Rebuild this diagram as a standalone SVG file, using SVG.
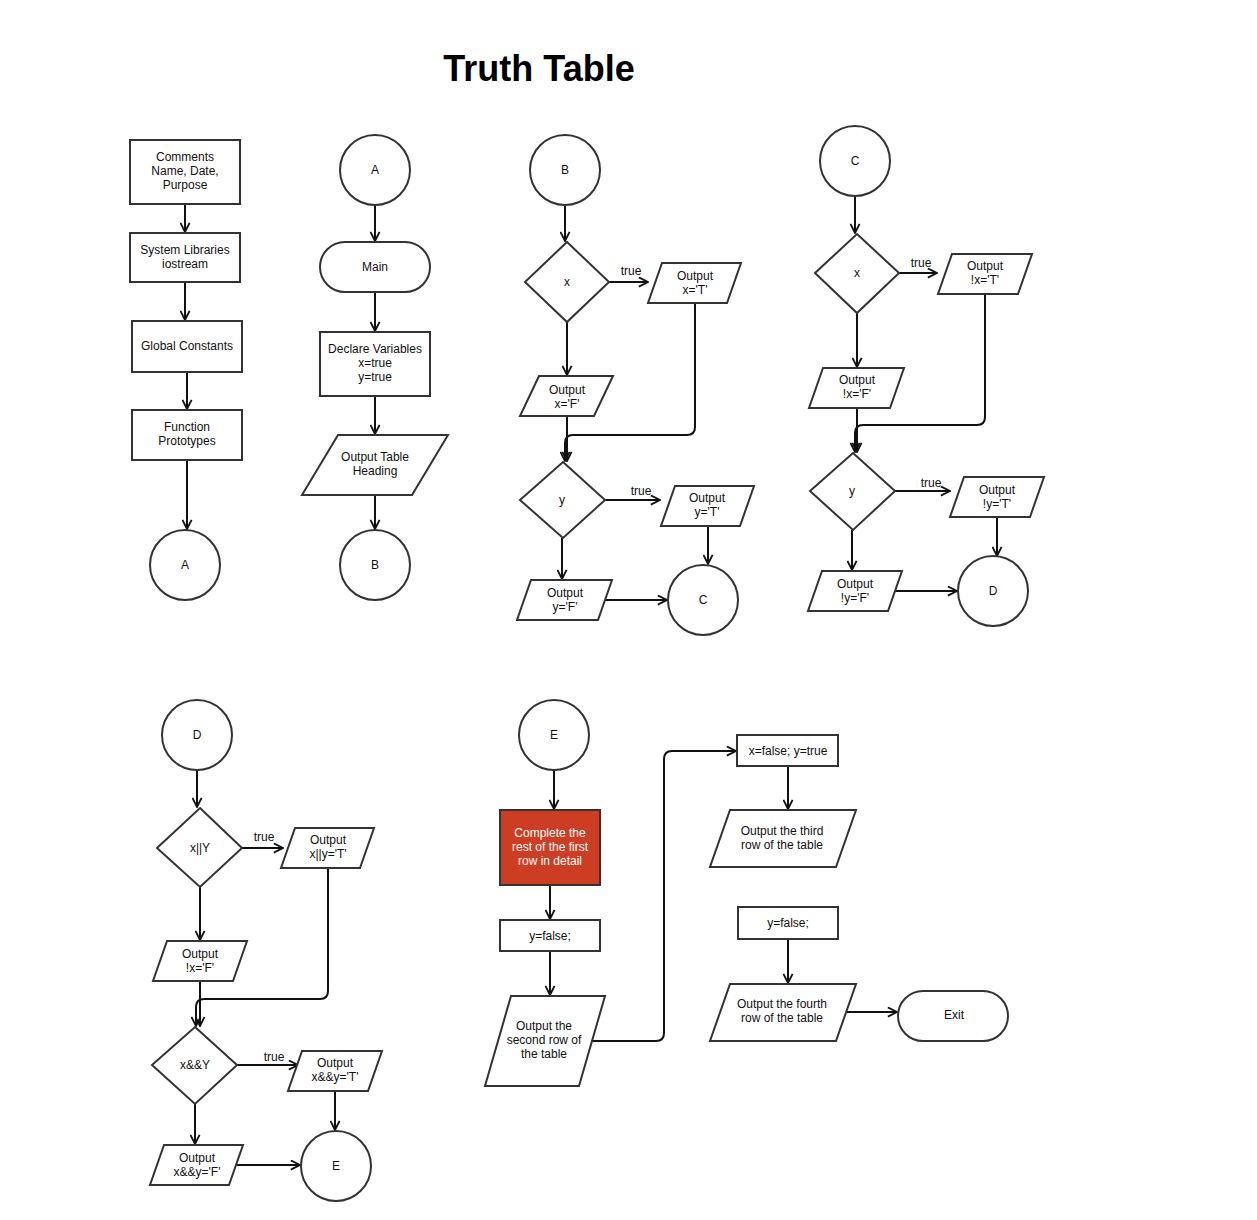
<svg xmlns="http://www.w3.org/2000/svg" width="1257" height="1220" viewBox="0 0 1257 1220">
<style>
.s{fill:#fff;stroke:#333;stroke-width:2}
.r{fill:#cc3d24;stroke:#333;stroke-width:2}
.t{font-family:"Liberation Sans",Arial,sans-serif;font-size:12px;fill:#111;text-anchor:middle}
.w{fill:#fff}
.c{fill:none;stroke:#111;stroke-width:2}
.h{font-family:"Liberation Sans",Arial,sans-serif;font-size:36px;font-weight:bold;fill:#000;text-anchor:middle}
</style>
<defs>
<marker id="a" viewBox="0 0 12 12" refX="11" refY="6" markerWidth="11" markerHeight="11" markerUnits="userSpaceOnUse" orient="auto">
<path d="M1,1 L11,6 L1,11" fill="none" stroke="#111" stroke-width="2"/>
</marker>
</defs>
<rect width="1257" height="1220" fill="#fff"/>
<text class="h" x="539" y="81">Truth Table</text>

<g id="connectors">
<path class="c" marker-end="url(#a)" d="M185,204 V232"/>
<path class="c" marker-end="url(#a)" d="M185,282 V320"/>
<path class="c" marker-end="url(#a)" d="M187,372 V409"/>
<path class="c" marker-end="url(#a)" d="M187,460 V529"/>
<path class="c" marker-end="url(#a)" d="M375,205 V241"/>
<path class="c" marker-end="url(#a)" d="M375,292 V331"/>
<path class="c" marker-end="url(#a)" d="M375,396 V434"/>
<path class="c" marker-end="url(#a)" d="M375,495 V529"/>
<path class="c" marker-end="url(#a)" d="M565,205 V241"/>
<path class="c" marker-end="url(#a)" d="M609,282 H648"/>
<path class="c" marker-end="url(#a)" d="M567,322 V375"/>
<path class="c" marker-end="url(#a)" d="M695,303 V427 Q695,435 687,435 H573 Q565,435 565,443 V461"/>
<path class="c" marker-end="url(#a)" d="M567,416 V461"/>
<path class="c" marker-end="url(#a)" d="M605,500 H660"/>
<path class="c" marker-end="url(#a)" d="M708,527 V564"/>
<path class="c" marker-end="url(#a)" d="M562,538 V579"/>
<path class="c" marker-end="url(#a)" d="M605,600 H667"/>
<path class="c" marker-end="url(#a)" d="M855,196 V233"/>
<path class="c" marker-end="url(#a)" d="M899,273 H937"/>
<path class="c" marker-end="url(#a)" d="M857,313 V367"/>
<path class="c" marker-end="url(#a)" d="M985,294 V417 Q985,425 977,425 H863 Q855,425 855,433 V452"/>
<path class="c" marker-end="url(#a)" d="M857,408 V452"/>
<path class="c" marker-end="url(#a)" d="M895,491 H950"/>
<path class="c" marker-end="url(#a)" d="M997,517 V556"/>
<path class="c" marker-end="url(#a)" d="M852,530 V570"/>
<path class="c" marker-end="url(#a)" d="M895,591 H957"/>
<path class="c" marker-end="url(#a)" d="M197,770 V807"/>
<path class="c" marker-end="url(#a)" d="M242,848 H283"/>
<path class="c" marker-end="url(#a)" d="M200,887 V940"/>
<path class="c" marker-end="url(#a)" d="M328,868 V991 Q328,999 320,999 H204 Q196,999 196,1007 V1026"/>
<path class="c" marker-end="url(#a)" d="M200,981 V1026"/>
<path class="c" marker-end="url(#a)" d="M237,1065 H298"/>
<path class="c" marker-end="url(#a)" d="M335,1091 V1130"/>
<path class="c" marker-end="url(#a)" d="M195,1104 V1144"/>
<path class="c" marker-end="url(#a)" d="M236,1165 H300"/>
<path class="c" marker-end="url(#a)" d="M554,770 V809"/>
<path class="c" marker-end="url(#a)" d="M550,885 V919"/>
<path class="c" marker-end="url(#a)" d="M550,951 V995"/>
<path class="c" marker-end="url(#a)" d="M590,1041 H656 Q664,1041 664,1033 V759 Q664,751 672,751 H736"/>
<path class="c" marker-end="url(#a)" d="M788,766 V809"/>
<path class="c" marker-end="url(#a)" d="M788,939 V983"/>
<path class="c" marker-end="url(#a)" d="M838,1012 H897"/>
<text class="t" x="631" y="275">true</text>
<text class="t" x="641" y="495">true</text>
<text class="t" x="921" y="267">true</text>
<text class="t" x="931" y="487">true</text>
<text class="t" x="264" y="841">true</text>
<text class="t" x="274" y="1061">true</text>
</g>

<g id="comments"><rect class="s" x="130" y="140" width="110" height="64"/><text class="t" x="185" y="161">Comments</text><text class="t" x="185" y="175">Name, Date,</text><text class="t" x="185" y="189">Purpose</text></g>
<g id="syslib"><rect class="s" x="130" y="233" width="110" height="49"/><text class="t" x="185" y="254">System Libraries</text><text class="t" x="185" y="268">iostream</text></g>
<g id="globals"><rect class="s" x="132" y="321" width="110" height="51"/><text class="t" x="187" y="350">Global Constants</text></g>
<g id="protos"><rect class="s" x="132" y="410" width="110" height="50"/><text class="t" x="187" y="431">Function</text><text class="t" x="187" y="445">Prototypes</text></g>
<g id="connA1"><circle class="s" cx="185" cy="565" r="35"/><text class="t" x="185" y="569">A</text></g>

<g id="connA2"><circle class="s" cx="375" cy="170" r="35"/><text class="t" x="375" y="174">A</text></g>
<g id="main"><rect class="s" x="320" y="242" width="110" height="50" rx="25"/><text class="t" x="375" y="271">Main</text></g>
<g id="declare"><rect class="s" x="320" y="332" width="110" height="64"/><text class="t" x="375" y="353">Declare Variables</text><text class="t" x="375" y="367">x=true</text><text class="t" x="375" y="381">y=true</text></g>
<g id="heading"><polygon class="s" points="338,435 448,435 412,495 302,495"/><text class="t" x="375" y="461">Output Table</text><text class="t" x="375" y="475">Heading</text></g>
<g id="connB1"><circle class="s" cx="375" cy="565" r="35"/><text class="t" x="375" y="569">B</text></g>

<g id="connB2"><circle class="s" cx="565" cy="170" r="35"/><text class="t" x="565" y="174">B</text></g>
<g id="decx1"><polygon class="s" points="567,242 609,282 567,322 525,282"/><text class="t" x="567" y="286">x</text></g>
<g id="outxT"><polygon class="s" points="662,263 741,263 727,303 648,303"/><text class="t" x="695" y="280">Output</text><text class="t" x="695" y="294">x='T'</text></g>
<g id="outxF"><polygon class="s" points="539,376 613,376 594,416 520,416"/><text class="t" x="567" y="394">Output</text><text class="t" x="567" y="408">x='F'</text></g>
<g id="decy1"><polygon class="s" points="563,462 605,500 563,538 520,500"/><text class="t" x="562" y="504">y</text></g>
<g id="outyT"><polygon class="s" points="675,486 754,486 740,526 661,526"/><text class="t" x="707" y="502">Output</text><text class="t" x="707" y="516">y='T'</text></g>
<g id="outyF"><polygon class="s" points="531,580 612,580 598,620 517,620"/><text class="t" x="565" y="597">Output</text><text class="t" x="565" y="611">y='F'</text></g>
<g id="connC1"><circle class="s" cx="703" cy="600" r="35"/><text class="t" x="703" y="604">C</text></g>

<g id="connC2"><circle class="s" cx="855" cy="161" r="35"/><text class="t" x="855" y="165">C</text></g>
<g id="decx2"><polygon class="s" points="857,234 899,273 857,313 815,273"/><text class="t" x="857" y="277">x</text></g>
<g id="outnxT"><polygon class="s" points="952,254 1032,254 1018,294 938,294"/><text class="t" x="985" y="270">Output</text><text class="t" x="985" y="284">!x='T'</text></g>
<g id="outnxF"><polygon class="s" points="823,368 904,368 890,408 809,408"/><text class="t" x="857" y="384">Output</text><text class="t" x="857" y="398">!x='F'</text></g>
<g id="decy2"><polygon class="s" points="853,453 895,491 853,530 810,491"/><text class="t" x="852" y="495">y</text></g>
<g id="outnyT"><polygon class="s" points="964,477 1044,477 1030,517 950,517"/><text class="t" x="997" y="494">Output</text><text class="t" x="997" y="508">!y='T'</text></g>
<g id="outnyF"><polygon class="s" points="822,571 902,571 888,611 808,611"/><text class="t" x="855" y="588">Output</text><text class="t" x="855" y="602">!y='F'</text></g>
<g id="connD1"><circle class="s" cx="993" cy="591" r="35"/><text class="t" x="993" y="595">D</text></g>

<g id="connD2"><circle class="s" cx="197" cy="735" r="35"/><text class="t" x="197" y="739">D</text></g>
<g id="decor"><polygon class="s" points="200,808 242,848 200,887 157,848"/><text class="t" x="200" y="852">x||Y</text></g>
<g id="outorT"><polygon class="s" points="295,828 374,828 360,868 281,868"/><text class="t" x="328" y="844">Output</text><text class="t" x="328" y="858">x||y='T'</text></g>
<g id="outorF"><polygon class="s" points="167,941 247,941 233,981 153,981"/><text class="t" x="200" y="958">Output</text><text class="t" x="200" y="972">!x='F'</text></g>
<g id="decand"><polygon class="s" points="195,1027 237,1065 195,1104 152,1065"/><text class="t" x="195" y="1069">x&amp;&amp;Y</text></g>
<g id="outandT"><polygon class="s" points="302,1051 382,1051 368,1091 288,1091"/><text class="t" x="335" y="1067">Output</text><text class="t" x="335" y="1081">x&amp;&amp;y='T'</text></g>
<g id="outandF"><polygon class="s" points="164,1145 243,1145 229,1185 150,1185"/><text class="t" x="197" y="1162">Output</text><text class="t" x="197" y="1176">x&amp;&amp;y='F'</text></g>
<g id="connE1"><circle class="s" cx="336" cy="1166" r="35"/><text class="t" x="336" y="1170">E</text></g>

<g id="connE2"><circle class="s" cx="554" cy="735" r="35"/><text class="t" x="554" y="739">E</text></g>
<g id="complete"><rect class="r" x="500" y="810" width="100" height="75"/><text class="t w" x="550" y="837">Complete the</text><text class="t w" x="550" y="851">rest of the first</text><text class="t w" x="550" y="865">row in detail</text></g>
<g id="yfalse1"><rect class="s" x="500" y="920" width="100" height="31"/><text class="t" x="550" y="940">y=false;</text></g>
<g id="row2"><polygon class="s" points="511,996 605,996 579,1086 485,1086"/><text class="t" x="544" y="1030">Output the</text><text class="t" x="544" y="1044">second row of</text><text class="t" x="544" y="1058">the table</text></g>
<g id="xfyt"><rect class="s" x="737" y="735" width="101" height="31"/><text class="t" x="788" y="755">x=false; y=true</text></g>
<g id="row3"><polygon class="s" points="730,810 856,810 836,867 710,867"/><text class="t" x="782" y="835">Output the third</text><text class="t" x="782" y="849">row of the table</text></g>
<g id="yfalse2"><rect class="s" x="738" y="907" width="100" height="32"/><text class="t" x="788" y="927">y=false;</text></g>
<g id="row4"><polygon class="s" points="730,984 856,984 836,1041 710,1041"/><text class="t" x="782" y="1008">Output the fourth</text><text class="t" x="782" y="1022">row of the table</text></g>
<g id="exit"><rect class="s" x="898" y="991" width="110" height="50" rx="25"/><text class="t" x="954" y="1019">Exit</text></g>
</svg>
